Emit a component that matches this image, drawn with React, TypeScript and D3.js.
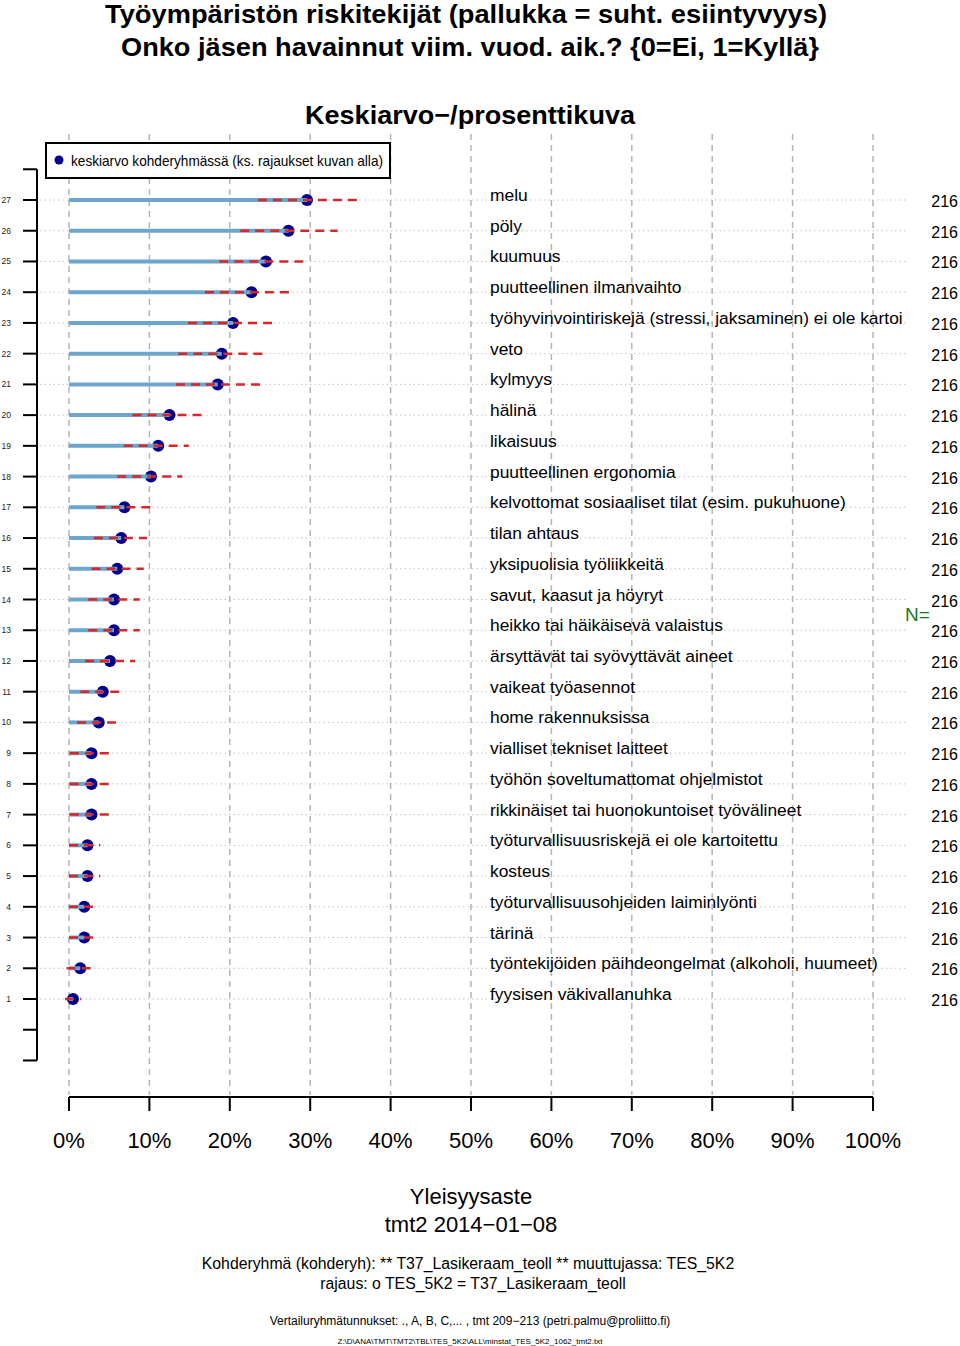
import * as d3 from 'd3'

const labels = [
  'melu',
  'pöly',
  'kuumuus',
  'puutteellinen ilmanvaihto',
  'työhyvinvointiriskejä (stressi, jaksaminen) ei ole kartoi',
  'veto',
  'kylmyys',
  'hälinä',
  'likaisuus',
  'puutteellinen ergonomia',
  'kelvottomat sosiaaliset tilat (esim. pukuhuone)',
  'tilan ahtaus',
  'yksipuolisia työliikkeitä',
  'savut, kaasut ja höyryt',
  'heikko tai häikäisevä valaistus',
  'ärsyttävät tai syövyttävät aineet',
  'vaikeat työasennot',
  'home rakennuksissa',
  'vialliset tekniset laitteet',
  'työhön soveltumattomat ohjelmistot',
  'rikkinäiset tai huonokuntoiset työvälineet',
  'työturvallisuusriskejä ei ole kartoitettu',
  'kosteus',
  'työturvallisuusohjeiden laiminlyönti',
  'tärinä',
  'työntekijöiden päihdeongelmat (alkoholi, huumeet)',
  'fyysisen väkivallanuhka',
]

// percentages, top row first
const means = [29.6, 27.3, 24.5, 22.7, 20.4, 19.0, 18.5, 12.5, 11.1, 10.2, 6.9, 6.5, 6.0, 5.6, 5.6, 5.1, 4.2, 3.7, 2.8, 2.8, 2.8, 2.3, 2.3, 1.9, 1.9, 1.4, 0.5]
const lower = [23.5, 21.3, 18.7, 16.9, 14.8, 13.6, 13.3, 7.9, 6.8, 6.0, 3.4, 3.1, 2.8, 2.4, 2.4, 2.0, 1.4, 1.0, 0.1, 0.1, 0.1, 0, 0, 0, 0, -0.3, -0.5]
const upper = [35.9, 33.4, 29.8, 27.9, 25.8, 24.4, 23.8, 17.1, 14.9, 14.1, 10.1, 9.7, 9.3, 8.8, 8.8, 8.2, 6.6, 6.3, 5.1, 5.1, 5.1, 3.9, 3.9, 3.6, 3.6, 3.1, 1.5]
const nValues = labels.map(() => 216)

const xTicks = [0, 10, 20, 30, 40, 50, 60, 70, 80, 90, 100]
const yTicks = d3.range(-1, 29)

const W = 960
const H = 1346
const font = "'Liberation Sans', Arial, Helvetica, sans-serif"

const x = d3.scaleLinear().domain([0, 100]).range([69, 873])
const y = d3.scaleLinear().domain([1, 27]).range([999, 200])

const App = () => {
  const rows = labels.map((label, i) => ({
    label,
    rank: labels.length - i,
    mean: means[i],
    lo: lower[i],
    hi: upper[i],
    n: nValues[i],
  }))

  return (
    <svg width={W} height={H} style={{ position: 'absolute', left: 0, top: 0, background: '#fff' }} fontFamily={font}>
      {/* titles */}
      <text x={466} y={23} textAnchor="middle" fontSize={25} fontWeight="bold" textLength={722} lengthAdjust="spacingAndGlyphs">
        Työympäristön riskitekijät (pallukka = suht. esiintyvyys)
      </text>
      <text x={470} y={56} textAnchor="middle" fontSize={25} fontWeight="bold" textLength={698} lengthAdjust="spacingAndGlyphs">
        Onko jäsen havainnut viim. vuod. aik.? {'{0=Ei, 1=Kyllä}'}
      </text>
      <text x={470} y={124} textAnchor="middle" fontSize={26} fontWeight="bold" textLength={330} lengthAdjust="spacingAndGlyphs">
        Keskiarvo−/prosenttikuva
      </text>

      {/* vertical dashed grid */}
      {xTicks.map((t) => (
        <line key={'vg' + t} x1={x(t)} x2={x(t)} y1={134} y2={1095} stroke="#b4b4b4" strokeWidth={1.5} strokeDasharray="6,5" />
      ))}

      {/* horizontal dotted grid */}
      {rows.map((r) => (
        <line key={'hg' + r.rank} x1={40} x2={906} y1={y(r.rank)} y2={y(r.rank)} stroke="#c4c4c4" strokeWidth={1} strokeDasharray="1.5,3" />
      ))}

      {/* left axis */}
      <line x1={37} x2={37} y1={y(28)} y2={y(-1)} stroke="#000" strokeWidth={2} />
      {yTicks.map((t) => (
        <line key={'yt' + t} x1={23} x2={37} y1={y(t)} y2={y(t)} stroke="#000" strokeWidth={2} />
      ))}
      {rows.map((r) => (
        <text key={'yl' + r.rank} x={11} y={y(r.rank) + 3} textAnchor="end" fontSize={8.5} fill="#222">
          {r.rank}
        </text>
      ))}

      {/* legend */}
      <rect x={46} y={143} width={344} height={35} fill="#fff" stroke="#000" strokeWidth={2} />
      <circle cx={59} cy={160} r={4.5} fill="#00008b" />
      <text x={71} y={166} fontSize={14.5} textLength={312} lengthAdjust="spacingAndGlyphs">
        keskiarvo kohderyhmässä (ks. rajaukset kuvan alla)
      </text>

      {/* marks */}
      {rows.map((r) => (
        <g key={'m' + r.rank}>
          <circle cx={x(r.mean)} cy={y(r.rank)} r={6} fill="#00008b" />
          <line x1={x(0)} x2={x(r.mean)} y1={y(r.rank)} y2={y(r.rank)} stroke="#6ca6cd" strokeWidth={4} />
          <line x1={x(r.lo)} x2={x(r.hi)} y1={y(r.rank)} y2={y(r.rank)} stroke="#d9262b" strokeWidth={2.5} strokeDasharray="9,6" />
        </g>
      ))}

      {/* row labels and N */}
      {rows.map((r) => (
        <g key={'l' + r.rank}>
          <text x={490} y={y(r.rank) + 1} fontSize={17.4} fill="#000">
            {r.label}
          </text>
          <text x={958} y={y(r.rank) + 7} textAnchor="end" fontSize={16} fill="#000">
            {r.n}
          </text>
        </g>
      ))}
      <text x={905} y={621} fontSize={19} fill="#1a7a1a">
        N=
      </text>

      {/* bottom axis */}
      <line x1={x(0)} x2={x(100)} y1={1097} y2={1097} stroke="#000" strokeWidth={2} />
      {xTicks.map((t) => (
        <g key={'xt' + t}>
          <line x1={x(t)} x2={x(t)} y1={1097} y2={1111} stroke="#000" strokeWidth={2} />
          <text x={x(t)} y={1148} textAnchor="middle" fontSize={22}>
            {t}%
          </text>
        </g>
      ))}

      {/* footer */}
      <text x={471} y={1204} textAnchor="middle" fontSize={22}>
        Yleisyysaste
      </text>
      <text x={471} y={1232} textAnchor="middle" fontSize={22}>
        tmt2 2014−01−08
      </text>
      <text x={468} y={1269} textAnchor="middle" fontSize={15.8}>
        Kohderyhmä (kohderyh): ** T37_Lasikeraam_teoll ** muuttujassa:  TES_5K2
      </text>
      <text x={473} y={1289} textAnchor="middle" fontSize={15.8}>
        rajaus:  o TES_5K2 = T37_Lasikeraam_teoll
      </text>
      <text x={470} y={1325} textAnchor="middle" fontSize={12}>
        Vertailuryhmätunnukset: ., A, B, C,...   , tmt 209−213 (petri.palmu@proliitto.fi)
      </text>
      <text x={470} y={1344} textAnchor="middle" fontSize={8}>
        Z:\D\ANA\TMT\TMT2\TBL\TES_5K2\ALL\minstat_TES_5K2_1062_tmt2.txt
      </text>
    </svg>
  )
}

export default App
